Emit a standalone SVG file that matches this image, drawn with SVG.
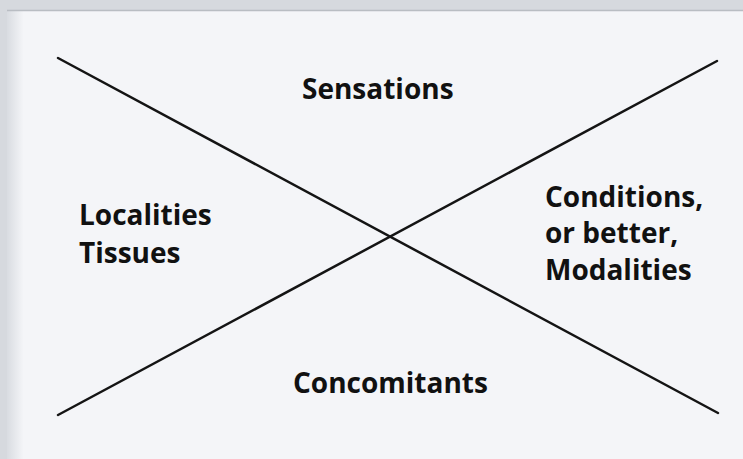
<svg xmlns="http://www.w3.org/2000/svg" width="743" height="459" viewBox="0 0 743 459">
  <defs>
    <linearGradient id="edge" x1="0" y1="0" x2="1" y2="0">
      <stop offset="0" stop-color="#d9dce1"/>
      <stop offset="1" stop-color="#f3f4f7"/>
    </linearGradient>
    <style>
      .lbl { font-family: "Open Sans", Lato, "Liberation Sans", sans-serif; font-weight: bold; font-size: 28px; fill: #111111; font-variant-ligatures: none; }
      .ln { stroke: #141414; stroke-width: 2.5; stroke-linecap: round; fill: none; }
    </style>
  </defs>
  <rect x="0" y="0" width="743" height="459" fill="#d6d9de"/>
  <rect x="7" y="10" width="736" height="449" fill="#f4f5f8"/>
  <rect x="7" y="10" width="16" height="449" fill="url(#edge)"/>
  <line x1="7" y1="10.5" x2="743" y2="10.5" stroke="#b9bdc3" stroke-width="1.5"/>
  <g id="connectors">
    <line class="ln" x1="58" y1="58" x2="718" y2="413"/>
    <line class="ln" x1="58" y1="415" x2="717" y2="61"/>
  </g>
  <g id="sensations"><text class="lbl" x="302" y="99">Sensations</text></g>
  <g id="localities"><text class="lbl" x="79" y="225">Localities</text><text class="lbl" x="79" y="263">Tissues</text></g>
  <g id="conditions"><text class="lbl" x="545" y="207">Conditions,</text><text class="lbl" x="545" y="243">or better,</text><text class="lbl" x="545" y="280">Modalities</text></g>
  <g id="concomitants"><text class="lbl" x="293" y="393">Concomitants</text></g>
</svg>
